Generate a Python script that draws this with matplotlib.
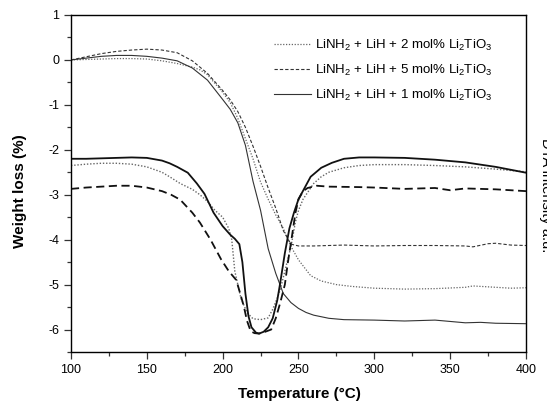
import numpy as np
import matplotlib
matplotlib.use("Agg")
import matplotlib.pyplot as plt
from matplotlib.ticker import MultipleLocator

plt.rcParams['font.family'] = ['Liberation Sans', 'DejaVu Sans']
plt.rcParams['mathtext.fontset'] = 'custom'
plt.rcParams['mathtext.rm'] = 'Liberation Sans'
plt.rcParams['mathtext.it'] = 'Liberation Sans:italic'
plt.rcParams['mathtext.bf'] = 'Liberation Sans:bold'
plt.rcParams['axes.unicode_minus'] = False

# TG curves (weight loss, %)
tg1_T = [100, 110, 120, 130, 140, 150, 160, 170, 180, 190, 200, 205, 210, 215, 220, 225, 230, 235, 240,
         245, 250, 255, 260, 270, 280, 300, 320, 340, 360, 370, 380, 400]
tg1_W = [0.0, 0.04, 0.08, 0.1, 0.1, 0.08, 0.04, -0.02, -0.18, -0.45, -0.88, -1.1, -1.4, -1.9, -2.7, -3.35,
         -4.2, -4.75, -5.2, -5.4, -5.53, -5.62, -5.68, -5.75, -5.78, -5.79, -5.81, -5.79, -5.85, -5.84, -5.86, -5.87]

tg5_T = [100, 110, 120, 130, 140, 150, 160, 170, 180, 190, 200, 205, 210, 215, 220, 225, 230, 235, 240,
         245, 250, 260, 280, 300, 320, 340, 360, 365, 375, 380, 390, 400]
tg5_W = [0.0, 0.07, 0.14, 0.19, 0.22, 0.24, 0.22, 0.16, -0.02, -0.3, -0.68, -0.89, -1.15, -1.5, -1.92, -2.37,
         -2.85, -3.3, -3.8, -4.1, -4.14, -4.14, -4.12, -4.14, -4.13, -4.13, -4.14, -4.16, -4.09, -4.08, -4.12, -4.13]

tg2_T = [100, 110, 120, 130, 140, 150, 160, 170, 180, 185, 190, 200, 205, 210, 215, 220, 225, 230, 235,
         240, 245, 250, 258, 265, 275, 285, 300, 320, 340, 360, 365, 375, 390, 400]
tg2_W = [0.0, 0.01, 0.02, 0.03, 0.03, 0.02, -0.02, -0.08, -0.16, -0.22, -0.33, -0.72, -0.95, -1.3, -1.75,
         -2.2, -2.72, -3.1, -3.45, -3.75, -4.15, -4.45, -4.8, -4.92, -5.0, -5.04, -5.08, -5.1, -5.09, -5.06,
         -5.03, -5.05, -5.08, -5.07]

# DTA curves (a.u., drawn on the same scale)
dta1_T = [100, 110, 120, 130, 140, 150, 160, 165, 170, 177, 183, 188, 194, 200, 205, 208, 211, 213, 215,
          217, 219, 222, 224, 227, 230, 233, 236, 238, 241, 244, 247, 250, 254, 258, 265, 272, 280, 290,
          300, 320, 340, 360, 380, 400]
dta1_I = [-2.2, -2.2, -2.19, -2.18, -2.17, -2.18, -2.24, -2.3, -2.38, -2.51, -2.75, -2.98, -3.4, -3.7,
          -3.89, -3.98, -4.1, -4.5, -5.2, -5.7, -5.95, -6.07, -6.09, -6.05, -5.95, -5.75, -5.35, -4.95,
          -4.3, -3.75, -3.4, -3.1, -2.85, -2.6, -2.4, -2.29, -2.2, -2.17, -2.17, -2.18, -2.22, -2.28, -2.38, -2.51]

dta5_T = [100, 110, 120, 130, 140, 150, 160, 166, 172, 180, 185, 192, 199, 204, 209, 212, 214, 216, 218.5,
          221, 224, 228, 232, 235, 238, 241, 243, 246, 248, 250, 253, 256, 262, 270, 290, 300, 320, 340,
          350, 360, 380, 400]
dta5_I = [-2.87, -2.84, -2.82, -2.8, -2.8, -2.84, -2.92, -3.0, -3.11, -3.4, -3.62, -4.0, -4.44, -4.7,
          -4.9, -5.25, -5.49, -5.8, -6.04, -6.08, -6.09, -6.05, -6.0, -5.75, -5.4, -5.0, -4.51, -3.85,
          -3.4, -3.1, -2.92, -2.85, -2.8, -2.82, -2.83, -2.84, -2.87, -2.85, -2.9, -2.86, -2.88, -2.92]

dta2_T = [100, 110, 120, 130, 140, 150, 160, 165, 172, 180, 185, 190, 195, 200, 204, 206, 208, 212, 216,
          220, 225, 230, 233, 236, 238, 241, 245, 248, 250, 253, 256, 260, 265, 270, 280, 290, 300, 320,
          340, 360, 380, 400]
dta2_I = [-2.35, -2.32, -2.3, -2.3, -2.32, -2.38, -2.5, -2.6, -2.75, -2.88, -3.0, -3.15, -3.35, -3.5,
          -3.75, -4.0, -4.7, -5.3, -5.62, -5.76, -5.78, -5.74, -5.55, -5.3, -5.11, -4.7, -4.16, -3.6,
          -3.35, -3.1, -2.95, -2.75, -2.6, -2.5, -2.4, -2.35, -2.33, -2.33, -2.35, -2.38, -2.43, -2.49]

labels = ["LiNH$_2$ + LiH + 2 mol% Li$_2$TiO$_3$",
          "LiNH$_2$ + LiH + 5 mol% Li$_2$TiO$_3$",
          "LiNH$_2$ + LiH + 1 mol% Li$_2$TiO$_3$"]

fig = plt.figure(figsize=(5.47, 4.04), dpi=100)
ax = fig.add_axes([0.1298, 0.1287, 0.8318, 0.8342])

l2, = ax.plot(tg2_T, tg2_W, color='#666666', lw=0.9, dashes=(1, 1.3), label=labels[0])
l5, = ax.plot(tg5_T, tg5_W, color='#333333', lw=0.8, dashes=(3, 1.8), label=labels[1])
l1, = ax.plot(tg1_T, tg1_W, color='#333333', lw=0.8, label=labels[2])

ax2 = ax.twinx()
ax2.plot(dta2_T, dta2_I, color='#666666', lw=1.0, dashes=(1, 1.3))
ax2.plot(dta5_T, dta5_I, color='#111111', lw=1.3, dashes=(4.5, 2.5))
ax2.plot(dta1_T, dta1_I, color='#111111', lw=1.3)

for a in (ax, ax2):
    a.set_xlim(100, 400)
    a.set_ylim(-6.5, 1)
ax2.set_yticks([])
ax2.tick_params(right=False, labelright=False)

ax.xaxis.set_major_locator(MultipleLocator(50))
ax.xaxis.set_minor_locator(MultipleLocator(25))
ax.yaxis.set_major_locator(MultipleLocator(1))
ax.yaxis.set_minor_locator(MultipleLocator(0.5))
ax.tick_params(which='both', direction='out', top=False, right=False, labelsize=9, color='#333333')
ax.tick_params(which='major', length=5, width=0.9)
ax.tick_params(which='minor', length=3, width=0.9)
for s in ax.spines.values():
    s.set_linewidth(1.0)
    s.set_color('#333333')

ax.set_xlabel("Temperature (\u00b0C)", fontsize=11, fontweight='bold')
ax.set_ylabel("Weight loss (%)", fontsize=11, fontweight='bold')
ax.xaxis.set_label_coords(0.501, -0.105)
ax.yaxis.set_label_coords(-0.097, 0.478)

# right-hand label runs off the edge of the figure, as in the original
fig.text(0.985, 0.517, "DTA intensity a.u.", rotation=270, fontsize=10.5, ha='left', va='center')

ax.legend(handles=[l2, l5, l1], loc='upper right', bbox_to_anchor=(0.952, 0.968), frameon=False,
          fontsize=9.5, handlelength=2.8, handletextpad=0.3, labelspacing=0.75)

fig.savefig("out.png", dpi=100)
